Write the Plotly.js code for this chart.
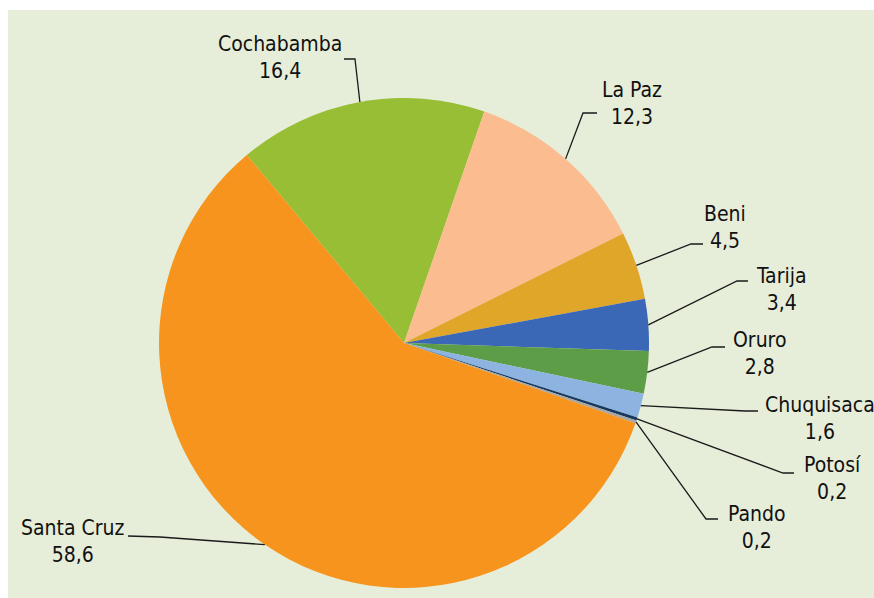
<!DOCTYPE html>
<html>
<head>
<meta charset="utf-8">
<script src="https://cdn.plot.ly/plotly-3.0.1.min.js"></script>
<style>html,body{margin:0;padding:0;background:#fff}#chart{width:874px;height:598px}</style>
</head>
<body>
<div id="chart"></div>
<script>
// Data
var departments = ["Cochabamba", "La Paz", "Beni", "Tarija", "Oruro", "Chuquisaca", "Potosí", "Pando", "Santa Cruz"];
var shares = [16.4, 12.3, 4.5, 3.4, 2.8, 1.6, 0.2, 0.2, 58.6];
var sliceColors = ["#97BE34", "#FBBC8F", "#DFA629", "#3A67B6", "#5E9D48", "#8DB3E0", "#17375E", "#A6A6A6", "#F7941E"];

// Layout constants (pixels)
var W = 874, H = 598;
var CX = 404, CY = 343, R = 245;
var ROT = -39.9;
// leader line elbow / end points and label centres (pixels)
var elbows = [[355,59],[583,113],[691,244],[737,281],[712,347],[745,411],[783,473],[706,519],[160,537]];
var ends   = [[344,59],[597,113],[703,244],[748,281],[725,347],[758,411],[794,473],[718,519],[128,536]];
var labelPos = [[280,57],[632,103],[725,227],[781,289],[759,353],[820,418],[832,478],[757,527],[72,541]];

function px(x){return x/W;}
function py(y){return 1 - y/H;}

var total = shares.reduce(function(a,b){return a+b;},0);
var shapes = [{
  type:'rect', xref:'paper', yref:'paper', layer:'below',
  x0:px(8), x1:1, y0:0, y1:py(10),
  fillcolor:'#E6EDD9', line:{width:0}
}];
var annotations = [];
var cum = 0;
for (var i=0;i<shares.length;i++){
  var mid = ROT + 360*(cum + shares[i]/2)/total;
  cum += shares[i];
  var a = mid*Math.PI/180;
  var sx = CX + R*Math.sin(a), sy = CY - R*Math.cos(a);
  var path = 'M '+px(sx)+' '+py(sy)+' L '+px(elbows[i][0])+' '+py(elbows[i][1])+' L '+px(ends[i][0])+' '+py(ends[i][1]);
  shapes.push({type:'path', xref:'paper', yref:'paper', path:path, line:{color:'#1a1a1a', width:1.3}, layer:'above'});
  annotations.push({
    xref:'paper', yref:'paper', x:px(labelPos[i][0]), y:py(labelPos[i][1]),
    xanchor:'center', yanchor:'middle', showarrow:false, align:'center',
    text: departments[i] + '<br>' + shares[i].toFixed(1).replace('.', ','),
    font:{family:'"DejaVu Sans Condensed", "Liberation Sans Narrow", sans-serif', size:21, color:'#111'}
  });
}

var trace = {
  type:'pie', labels:departments, values:shares, sort:false, direction:'clockwise',
  rotation:ROT, textinfo:'none', hoverinfo:'none', showlegend:false,
  marker:{colors:sliceColors, line:{width:0}},
  domain:{x:[px(CX-R), px(CX+R)], y:[py(CY+R), py(CY-R)]}
};

var layout = {
  width:W, height:H, margin:{l:0,r:0,t:0,b:0},
  paper_bgcolor:'#ffffff', plot_bgcolor:'rgba(0,0,0,0)',
  shapes:shapes, annotations:annotations, showlegend:false
};
Plotly.newPlot('chart', [trace], layout, {displayModeBar:false, staticPlot:true});
</script>
</body>
</html>
